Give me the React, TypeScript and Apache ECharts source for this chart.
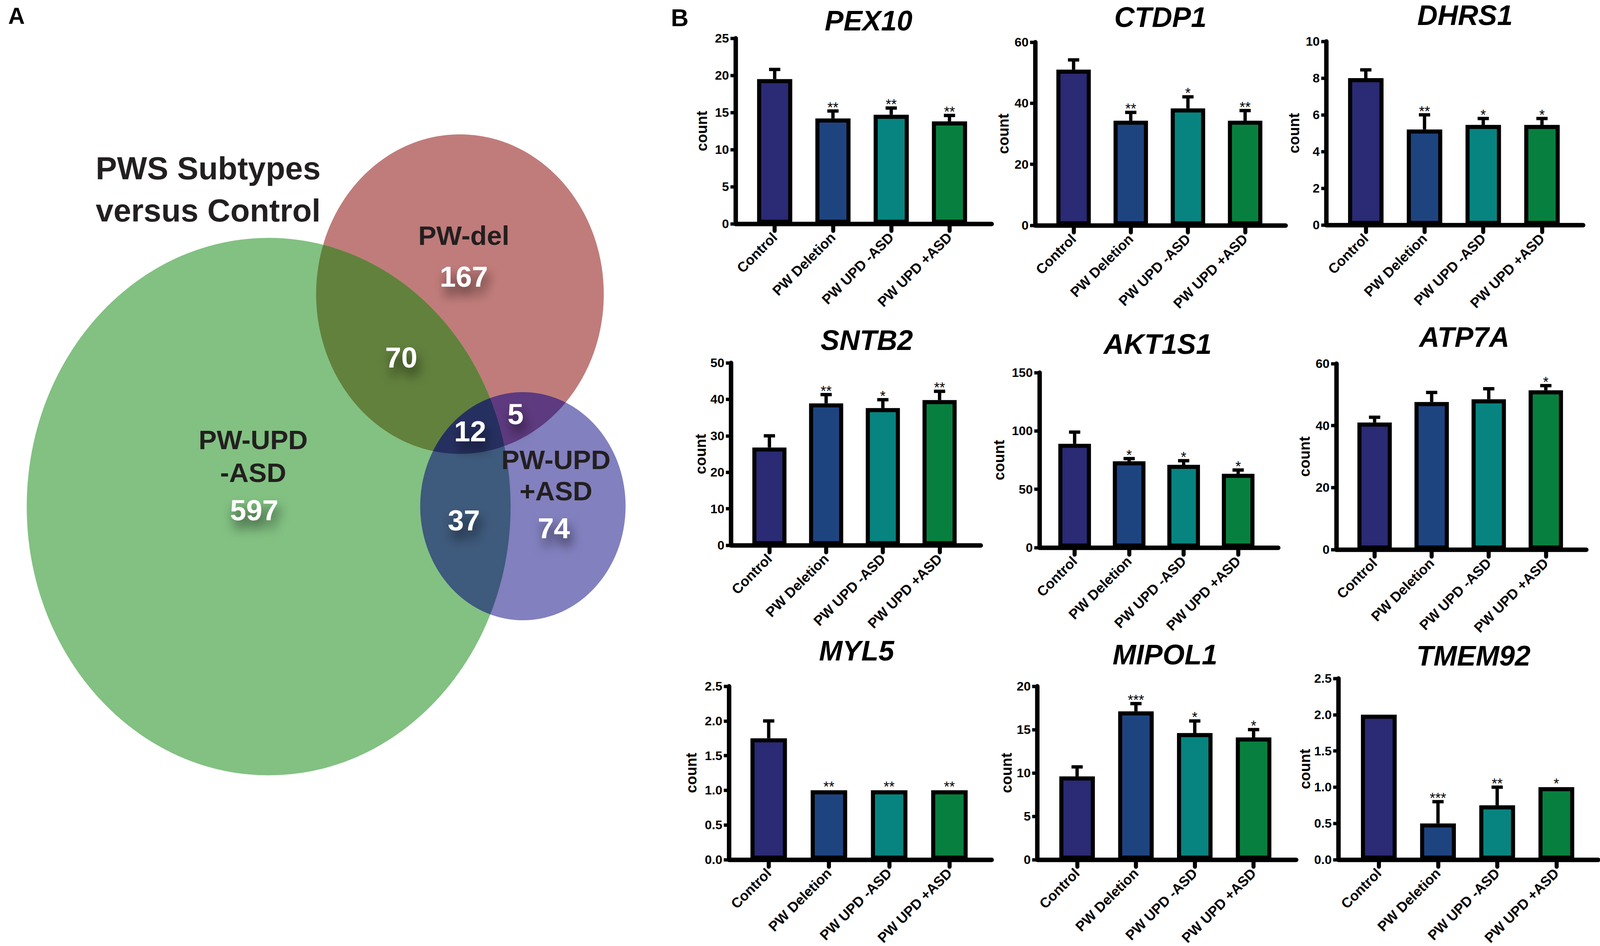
import React, { useEffect, useRef } from 'react';
import * as echarts from 'echarts';

const FONT = '"Liberation Sans", Arial, Helvetica, sans-serif';

// ---------- data ----------
const categories = ['Control', 'PW Deletion', 'PW UPD -ASD', 'PW UPD +ASD'];
const barColors = ['#2a2a75', '#1e4480', '#078480', '#07803f'];
const genes = ['PEX10', 'CTDP1', 'DHRS1', 'SNTB2', 'AKT1S1', 'ATP7A', 'MYL5', 'MIPOL1', 'TMEM92'];

const pex10Mean = [19.5, 14.2, 14.7, 13.8];
const pex10Err = [1.3, 1.0, 0.9, 0.8];
const pex10Sig = ['', '**', '**', '**'];

const ctdp1Mean = [51, 34.3, 38.3, 34.3];
const ctdp1Err = [3.2, 2.7, 3.8, 3.3];
const ctdp1Sig = ['', '**', '*', '**'];

const dhrs1Mean = [8.0, 5.2, 5.45, 5.45];
const dhrs1Err = [0.45, 0.8, 0.35, 0.35];
const dhrs1Sig = ['', '**', '*', '*'];

const sntb2Mean = [26.8, 38.9, 37.6, 39.8];
const sntb2Err = [3.2, 2.4, 2.3, 2.4];
const sntb2Sig = ['', '**', '*', '**'];

const akt1s1Mean = [89, 74, 71, 63.3];
const akt1s1Err = [10, 2.3, 3.5, 3.2];
const akt1s1Sig = ['', '*', '*', '*'];

const atp7aMean = [41, 47.6, 48.5, 51.4];
const atp7aErr = [1.7, 3.1, 3.4, 1.5];
const atp7aSig = ['', '', '', '*'];

const myl5Mean = [1.75, 1.0, 1.0, 1.0];
const myl5Err = [0.25, 0, 0, 0];
const myl5Sig = ['', '**', '**', '**'];

const mipol1Mean = [9.6, 17.1, 14.6, 14.1];
const mipol1Err = [1.1, 0.9, 1.4, 0.9];
const mipol1Sig = ['', '***', '*', '*'];

const tmem92Mean = [2.0, 0.5, 0.75, 1.0];
const tmem92Err = [0, 0.3, 0.25, 0];
const tmem92Sig = ['', '***', '**', '*'];

const allMeans = [pex10Mean, ctdp1Mean, dhrs1Mean, sntb2Mean, akt1s1Mean, atp7aMean, myl5Mean, mipol1Mean, tmem92Mean];
const allErrs = [pex10Err, ctdp1Err, dhrs1Err, sntb2Err, akt1s1Err, atp7aErr, myl5Err, mipol1Err, tmem92Err];
const allSigs = [pex10Sig, ctdp1Sig, dhrs1Sig, sntb2Sig, akt1s1Sig, atp7aSig, myl5Sig, mipol1Sig, tmem92Sig];

const yMax = [25, 60, 10, 50, 150, 60, 2.5, 20, 2.5];
const yStep = [5, 20, 2, 10, 50, 20, 0.5, 5, 0.5];
const yDecimals = [0, 0, 0, 0, 0, 0, 1, 0, 1];

// Venn counts
const vennSetNames = ['PW-del', 'PW-UPD\n-ASD', 'PW-UPD\n+ASD'];
const vennOnly = [167, 597, 74]; // del only, UPD-ASD only, UPD+ASD only
const vennPairs = [70, 5, 37]; // del&UPD-ASD, del&UPD+ASD, UPD-ASD&UPD+ASD
const vennTriple = 12;

// ---------- layout (reference pixels, 4550 x 2422) ----------
const REF_W = 4550;
const REF_H = 2422;
// [axisX, xEnd, y0, yTop, firstCenter, spacing, titleX, titleY, nameX]
const panelLayout = [
  [2092, 2820, 573, 98, 2203, 165.7, 2470, 53, 1995],
  [2944, 3656, 577, 108, 3053, 162.6, 3300, 44, 2853],
  [3772, 4502, 576, 106, 3884, 167, 4166, 39, 3679],
  [2079, 2789, 1396, 929, 2188, 161.3, 2465, 871, 1992],
  [2956, 3635, 1402, 954, 3056, 155, 3292, 881, 2841],
  [3800, 4511, 1407, 931, 3909, 162.3, 4164, 863, 3709],
  [2073, 2820, 2211, 1757, 2186, 171.3, 2436, 1666, 1965],
  [2950, 3686, 2204, 1757, 3063, 167.3, 3313, 1676, 2862],
  [3806, 4545, 2205, 1737, 3921, 168.3, 4190, 1679, 3710],
];

// circles: red (del), green (UPD-ASD), blue (UPD+ASD): [cx, cy, r]
const vennCircles = [
  [1308, 753, 409],
  [764, 1297, 688],
  [1487, 1296, 292],
];
const vennCircleColors = ['#c07c7a', '#82c182', '#8280be'];

// boundary of the intersection of circles (in reference pixels)
function regionPoints(idx: number[]): number[][] {
  const pts: number[][] = [];
  const N = 900;
  for (const i of idx) {
    const [cx, cy, r] = vennCircles[i];
    for (let k = 0; k < N; k++) {
      const t = (k / N) * Math.PI * 2;
      const p = [cx + r * Math.cos(t), cy + r * Math.sin(t)];
      let ok = true;
      for (const j of idx) {
        if (j === i) continue;
        const [dx, dy, dr] = vennCircles[j];
        if (Math.hypot(p[0] - dx, p[1] - dy) > dr + 0.01) { ok = false; break; }
      }
      if (ok) pts.push(p);
    }
  }
  let mx = 0, my = 0;
  pts.forEach((p) => { mx += p[0]; my += p[1]; });
  mx /= pts.length; my /= pts.length;
  pts.sort((a, b) => Math.atan2(a[1] - my, a[0] - mx) - Math.atan2(b[1] - my, b[0] - mx));
  return pts;
}

function buildOption(W: number, H: number) {
  const sx = W / REF_W;
  const sy = H / REF_H;
  const s = Math.sqrt(sx * sy);
  const X = (v: number) => v * sx;
  const Y = (v: number) => v * sy;
  const P = (v: number) => v * s;

  function txt(x: number, y: number, text: string, size: number, fill: string, extra: any = {}) {
    return {
      type: 'text',
      x: X(x),
      y: Y(y),
      z: 100,
      style: {
        text,
        fill,
        font: `bold ${P(size)}px ${FONT}`,
        align: 'center',
        verticalAlign: 'middle',
        textAlign: 'center',
        textVerticalAlign: 'middle',
        ...extra,
      },
    };
  }

  const numShadow = {
    textShadowColor: 'rgba(0,0,0,0.65)',
    textShadowBlur: P(30),
    textShadowOffsetX: P(6),
    textShadowOffsetY: P(22),
  };

  const grid: any[] = [];
  const xAxis: any[] = [];
  const yAxis: any[] = [];
  const series: any[] = [];
  const graphics: any[] = [];

  // Venn
  vennCircles.forEach(([cx, cy, r], i) => {
    graphics.push({ type: 'ellipse', shape: { cx: X(cx), cy: Y(cy), rx: X(r), ry: Y(r) }, style: { fill: vennCircleColors[i] }, z: 1 });
  });
  const pairRegions: [number[], string][] = [
    [[0, 1], '#62813d'],
    [[1, 2], '#3e5a7c'],
    [[0, 2], '#5e3a80'],
    [[0, 1, 2], '#263060'],
  ];
  pairRegions.forEach(([idx, color], k) => {
    const pts = regionPoints(idx).map(([px, py]) => [X(px), Y(py)]);
    graphics.push({ type: 'polygon', shape: { points: pts }, style: { fill: color }, z: 2 + k });
  });
  const dark = '#231f20';
  graphics.push(txt(47, 40, 'A', 62, '#000'));
  graphics.push(txt(1933, 45, 'B', 66, '#000'));
  graphics.push(txt(592, 430, 'PWS Subtypes', 86, dark));
  graphics.push(txt(592, 538, 'versus Control', 86, dark));
  graphics.push(txt(1319, 603, vennSetNames[0], 73, dark));
  graphics.push(txt(1319, 708, String(vennOnly[0]), 78, '#fff', numShadow));
  graphics.push(txt(720, 1168, vennSetNames[1], 73, dark, { lineHeight: P(89) }));
  graphics.push(txt(723, 1306, String(vennOnly[1]), 78, '#fff', numShadow));
  graphics.push(txt(1581, 1217, vennSetNames[2], 73, dark, { lineHeight: P(85) }));
  graphics.push(txt(1575, 1352, String(vennOnly[2]), 78, '#fff', numShadow));
  graphics.push(txt(1141, 915, String(vennPairs[0]), 78, '#fff', numShadow));
  graphics.push(txt(1466, 1060, String(vennPairs[1]), 78, '#fff', numShadow));
  graphics.push(txt(1319, 1332, String(vennPairs[2]), 78, '#fff', numShadow));
  graphics.push(txt(1337, 1104, String(vennTriple), 78, '#fff', numShadow));

  // bar panels
  genes.forEach((gene, i) => {
    const [axisX, xEnd, y0, yTop, c0, sp, titleX, titleY, nameX] = panelLayout[i];
    const means = allMeans[i];
    const errs = allErrs[i];
    const sigs = allSigs[i];
    grid.push({ left: X(axisX), top: Y(yTop), width: X(xEnd - axisX), height: Y(y0 - yTop) });
    xAxis.push({
      type: 'value',
      gridIndex: i,
      min: -(c0 - axisX) / sp,
      max: (xEnd - c0) / sp,
      splitLine: { show: false },
      axisLine: { show: true, onZero: false, lineStyle: { color: '#000', width: P(12), cap: 'round' } },
      axisTick: { show: true, customValues: [0, 1, 2, 3], length: P(19), lineStyle: { color: '#000', width: P(11), cap: 'round' } },
      axisLabel: {
        customValues: [0, 1, 2, 3],
        formatter: (v: number) => categories[Math.round(v)] ?? '',
        rotate: 45,
        fontSize: P(38),
        fontWeight: 'bold',
        fontFamily: FONT,
        color: '#000',
        margin: P(30),
      },
    });
    yAxis.push({
      type: 'value',
      gridIndex: i,
      min: 0,
      max: yMax[i],
      interval: yStep[i],
      splitLine: { show: false },
      axisLine: { show: true, onZero: false, lineStyle: { color: '#000', width: P(12), cap: 'round' } },
      axisTick: { show: true, length: P(14), lineStyle: { color: '#000', width: P(9) } },
      axisLabel: {
        fontSize: P(34),
        fontWeight: 'bold',
        fontFamily: FONT,
        color: '#000',
        margin: P(18),
        formatter: (v: number) => v.toFixed(yDecimals[i]),
      },
      name: 'count',
      nameLocation: 'middle',
      nameGap: X(axisX - nameX - 22),
      nameTextStyle: { fontSize: P(40), fontWeight: 'bold', fontFamily: FONT, color: '#000' },
    });
    series.push({
      type: 'bar',
      xAxisIndex: i,
      yAxisIndex: i,
      barWidth: X(0.67 * sp - 11),
      itemStyle: { borderColor: '#000', borderWidth: P(11) },
      data: means.map((m, j) => ({ value: [j, m], itemStyle: { color: barColors[j] } })),
      z: 2,
    });
    series.push({
      type: 'custom',
      xAxisIndex: i,
      yAxisIndex: i,
      z: 3,
      data: means.map((m, j) => [j, m, errs[j]]),
      renderItem: (params: any, api: any) => {
        const x = api.value(0);
        const m = api.value(1);
        const e = api.value(2);
        const j = params.dataIndex;
        const base = api.coord([x, m]);
        const top = api.coord([x, m + e]);
        const children: any[] = [];
        if (e > 0) {
          children.push({ type: 'line', shape: { x1: base[0], y1: base[1], x2: top[0], y2: top[1] }, style: { stroke: '#000', lineWidth: P(9) } });
          children.push({ type: 'line', shape: { x1: top[0] - X(16), y1: top[1], x2: top[0] + X(16), y2: top[1] }, style: { stroke: '#000', lineWidth: P(9) } });
        }
        if (sigs[j]) {
          children.push({
            type: 'text',
            x: top[0],
            y: top[1] - Y(9),
            style: {
              text: sigs[j],
              fill: '#000',
              font: `${P(38)}px ${FONT}`,
              align: 'center',
              verticalAlign: 'middle',
              textAlign: 'center',
              textVerticalAlign: 'middle',
            },
          });
        }
        return { type: 'group', children };
      },
    });
    graphics.push({
      type: 'text',
      x: X(titleX),
      y: Y(titleY),
      style: {
        text: gene,
        fill: '#000',
        font: `italic bold ${P(76)}px ${FONT}`,
        align: 'center',
        verticalAlign: 'middle',
        textAlign: 'center',
        textVerticalAlign: 'middle',
      },
    });
  });

  return {
    animation: false,
    backgroundColor: '#fff',
    grid,
    xAxis,
    yAxis,
    series,
    graphic: { elements: graphics },
  };
}

export default function App() {
  const ref = useRef<HTMLDivElement>(null);
  useEffect(() => {
    if (!ref.current) return;
    const chart = echarts.init(ref.current, undefined, { renderer: 'svg' });
    chart.setOption(buildOption(chart.getWidth(), chart.getHeight()) as any);
    return () => chart.dispose();
  }, []);
  return <div ref={ref} style={{ position: 'fixed', left: 0, top: 0, width: '100vw', height: '100vh', background: '#fff' }} />;
}
